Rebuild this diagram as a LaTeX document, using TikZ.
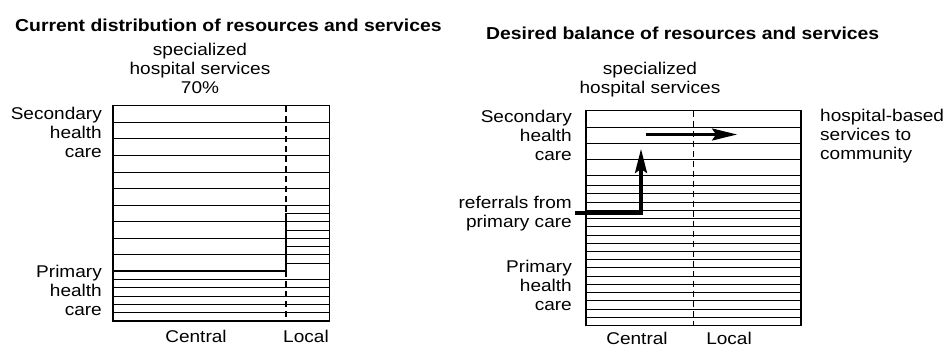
\documentclass[tikz,border=0pt]{standalone}
\usepackage{fontspec}
\setmainfont{Liberation Sans}[FakeStretch=1.12]
\usetikzlibrary{arrows.meta}
\tikzset{
  grid/.style={line width=0.8pt},
  frame/.style={line width=1.1pt},
  divider/.style={line width=1.1pt, dash pattern=on 6pt off 4pt},
  stepline/.style={line width=1.7pt},
  refline/.style={line width=3.2pt, -{Stealth[length=24pt,width=12pt,inset=4pt]}},
  shiftline/.style={line width=2.6pt, -{Stealth[length=25pt,width=12pt,inset=4pt]}},
  lbl/.style={font=\fontsize{17}{19}\selectfont, inner sep=0pt},
  ttl/.style={font=\fontsize{17.3}{20}\selectfont\bfseries, inner sep=0pt}
}
\begin{document}
\begin{tikzpicture}[x=1pt,y=-1pt]
\useasboundingbox[fill=white] (0,0) rectangle (949,347);
% ---------- titles
\node[ttl, anchor=base west] (t1) at (15,31.5) {Current distribution of resources and services};
\node[ttl, anchor=base west] (t2) at (486,39.5) {Desired balance of resources and services};
% ---------- left chart
\def\Lx{113}\def\Rx{329.3}\def\Dx{286}\def\By{321}\def\s{8.28}
\foreach \k in {1,...,5} \draw[grid] (\Lx,\By-\k*\s) -- (\Rx,\By-\k*\s);
\foreach \k in {7,...,12} \draw[grid] (\Dx,\By-\k*\s) -- (\Rx,\By-\k*\s);
\foreach \j in {1,2,3} \draw[grid] (\Lx,\By-6*\s-2*\j*\s) -- (\Dx,\By-6*\s-2*\j*\s);
\foreach \j in {4,...,9} \draw[grid] (\Lx,\By-6*\s-2*\j*\s) -- (\Rx,\By-6*\s-2*\j*\s);
\draw[divider] (\Dx,\By-26*\s) -- (\Dx,\By-13*\s);
\draw[divider] (\Dx,\By-6*\s) -- (\Dx,\By);
\draw[stepline] (\Lx,\By-6*\s) -- (\Dx,\By-6*\s) -- (\Dx,\By-13*\s) -- (\Rx,\By-13*\s);
\draw[frame] (\Lx,\By-26*\s) rectangle (\Rx,\By);
% left labels (base = baseline of the last line)
\node[lbl, align=center, anchor=base] (spec1) at (200,94) {specialized\\hospital services\\70\%};
\node[lbl, align=right, anchor=base east] (sec1) at (102,157.5) {Secondary\\health\\care};
\node[lbl, align=right, anchor=base east] (prim1) at (102,315) {Primary\\health\\care};
\node[lbl, anchor=base] (cen1) at (196,342.5) {Central};
\node[lbl, anchor=base] (loc1) at (306,342.5) {Local};
% ---------- right chart
\def\La{586}\def\Ra{801}\def\Da{693.5}\def\Ta{110.7}\def\Ba{325.5}\def\Ky{185.5}\def\t{8.235}
\foreach \i in {1,...,16} \draw[grid] (\La,\Ky+\i*\t) -- (\Ra,\Ky+\i*\t);
\foreach \i in {1,...,4} \draw[grid] (\La,\Ta+\i*16.25) -- (\Ra,\Ta+\i*16.25);
\draw[stepline] (\La,\Ky) -- (\Ra,\Ky);
\draw[divider] (\Da,\Ta) -- (\Da,\Ba);
\draw[frame] (\La,\Ta) rectangle (\Ra,\Ba);
\coordinate (refStart) at (575,213);
\coordinate (refTip) at (641,149);
\draw[refline] (refStart) -| (refTip);
\coordinate (shiftStart) at (646,134.5);
\coordinate (shiftTip) at (737,134.5);
\draw[shiftline] (shiftStart) -- (shiftTip);
% right labels
\node[lbl, align=center, anchor=base] (spec2) at (650,93.3) {specialized\\hospital services};
\node[lbl, align=right, anchor=base east] (sec2) at (572,161) {Secondary\\health\\care};
\node[lbl, align=right, anchor=base east] (ref2) at (572,227) {referrals from\\primary care};
\node[lbl, align=right, anchor=base east] (prim2) at (572,310) {Primary\\health\\care};
\node[lbl, align=left, anchor=base west] (hb2) at (820,160) {hospital-based\\services to\\community};
\node[lbl, anchor=base] (cen2) at (637,344.5) {Central};
\node[lbl, anchor=base] (loc2) at (729,344.5) {Local};
\end{tikzpicture}
\end{document}
